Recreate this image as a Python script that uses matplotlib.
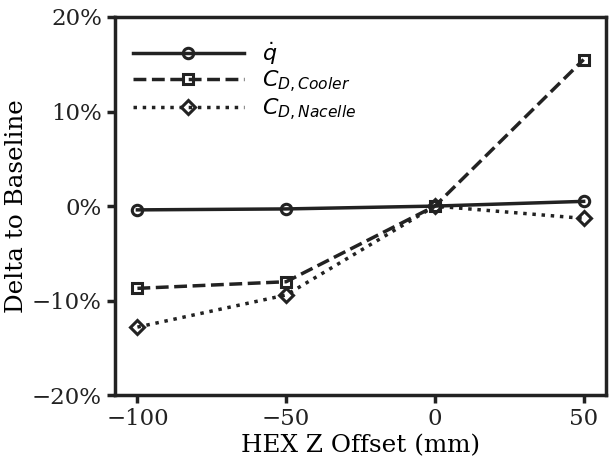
import matplotlib
matplotlib.use('Agg')
import matplotlib.pyplot as plt
from matplotlib.ticker import PercentFormatter

offsets = [-100, -50, 0, 50]
q_dot = [-0.4, -0.3, 0.0, 0.5]
cd_cooler = [-8.7, -8.0, 0.0, 15.5]
cd_nacelle = [-12.8, -9.4, 0.0, -1.3]

plt.rcParams['font.family'] = 'DejaVu Serif'
plt.rcParams['mathtext.fontset'] = 'dejavusans'

fig, ax = plt.subplots(figsize=(6.09, 4.59), dpi=100)
c = '#222222'
style = dict(color=c, linewidth=2.5, markersize=7.5, markerfacecolor='none', markeredgewidth=2.2)
ax.plot(offsets, q_dot, linestyle='-', marker='o', label=r'$\dot{q}$', **style)
ax.plot(offsets, cd_cooler, linestyle='--', marker='s', label=r'$C_{D,Cooler}$', **style)
ax.plot(offsets, cd_nacelle, linestyle=':', marker='D', label=r'$C_{D,Nacelle}$', **style)

ax.set_ylim(-20, 20)
ax.set_yticks([-20, -10, 0, 10, 20])
ax.set_xticks([-100, -50, 0, 50])
ax.yaxis.set_major_formatter(PercentFormatter(decimals=0))
ax.set_xlabel('HEX Z Offset (mm)', fontsize=17.7, labelpad=3)
ax.set_ylabel('Delta to Baseline', fontsize=17.7, labelpad=3)
ax.tick_params(axis='both', labelsize=16.5, direction='out', length=6, width=2.5, color=c, labelcolor=c)
for s in ax.spines.values():
    s.set_linewidth(2.5)
    s.set_color(c)
ax.legend(loc='upper left', bbox_to_anchor=(0, 0.987), frameon=False, fontsize=16,
          handlelength=5, labelspacing=0.08, borderaxespad=0.4)
fig.subplots_adjust(left=0.189, right=0.995, top=0.963, bottom=0.139)
plt.savefig('out.png')
